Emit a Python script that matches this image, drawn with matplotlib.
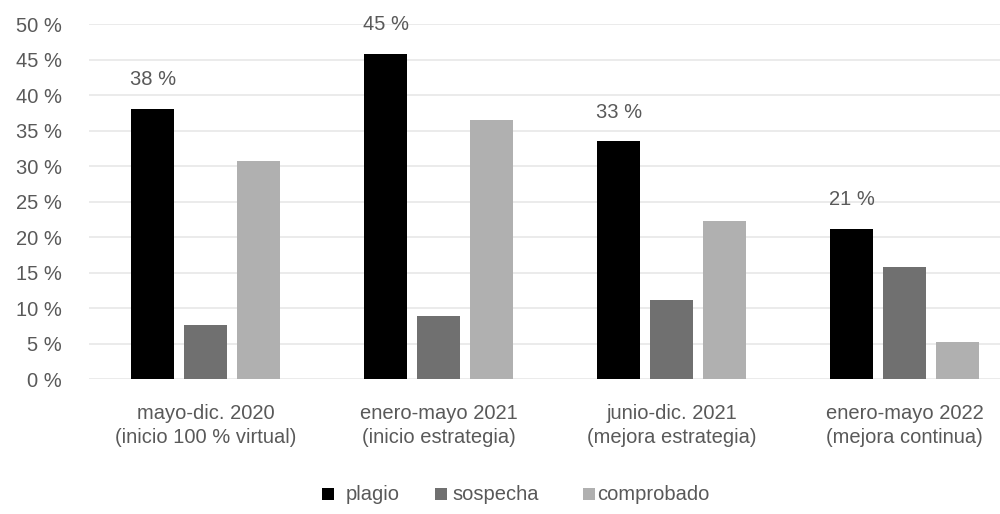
import matplotlib
matplotlib.use("Agg")
import matplotlib.pyplot as plt
import numpy as np
from matplotlib.patches import Rectangle

categories = ["mayo-dic. 2020\n(inicio 100 % virtual)",
              "enero-mayo 2021\n(inicio estrategia)",
              "junio-dic. 2021\n(mejora estrategia)",
              "enero-mayo 2022\n(mejora continua)"]
series_names = ["plagio", "sospecha", "comprobado"]
plagio = [38.1, 45.8, 33.5, 21.2]
sospecha = [7.6, 8.9, 11.2, 15.8]
comprobado = [30.7, 36.5, 22.3, 5.3]
plagio_labels = ["38 %", "45 %", "33 %", "21 %"]
yticks = [0, 5, 10, 15, 20, 25, 30, 35, 40, 45, 50]

colors = ["#000000", "#707070", "#b0b0b0"]
txt = "#595959"
font = "Liberation Sans"
plt.rcParams['font.family'] = [font, 'DejaVu Sans']
fs = 14.5

W, H = 1000, 514
fig = plt.figure(figsize=(W/100, H/100), dpi=100)
ax = fig.add_axes([89/W, 1-379.3/H, (W-89)/W, (379.3-24)/H])

x = np.arange(len(categories))
bw = 0.185
step = 0.226
for i, (vals, c) in enumerate(zip([plagio, sospecha, comprobado], colors)):
    ax.bar(x + (i-1)*step, vals, width=bw, color=c, zorder=3)

for xi, v, lab in zip(x, plagio, plagio_labels):
    ax.annotate(lab, (xi - step, v), xytext=(0, 29*0.72), textcoords="offset points",
                ha="center", va="center", fontsize=fs, color=txt)

ax.set_ylim(0, 50)
ax.set_xlim(-0.5, -0.5 + (W-89)/233)
ax.set_yticks(yticks)
ax.set_yticklabels([f"{t} %" for t in yticks], fontsize=fs, color=txt)
ax.set_xticks(x)
ax.set_xticklabels(categories, fontsize=fs, color=txt, linespacing=1.3)
ax.tick_params(axis="both", length=0)
ax.tick_params(axis="y", pad=19.5)
ax.tick_params(axis="x", pad=18)
ax.grid(axis="y", color="#e8e8e8", linewidth=1.2, zorder=0)
for s in ax.spines.values():
    s.set_visible(False)

# legend
leg = [(322, 346, "plagio"), (435, 452, "sospecha"), (583, 597, "comprobado")]
for (sq, tx, name), c in zip(leg, colors):
    fig.patches.append(Rectangle((sq/W, 1-500/H), 12/W, 12/H, transform=fig.transFigure,
                                 facecolor=c, edgecolor="none"))
    fig.text(tx/W, 1-494/H, name, ha="left", va="center", fontsize=fs, color=txt)

fig.savefig("out.png", dpi=100)
